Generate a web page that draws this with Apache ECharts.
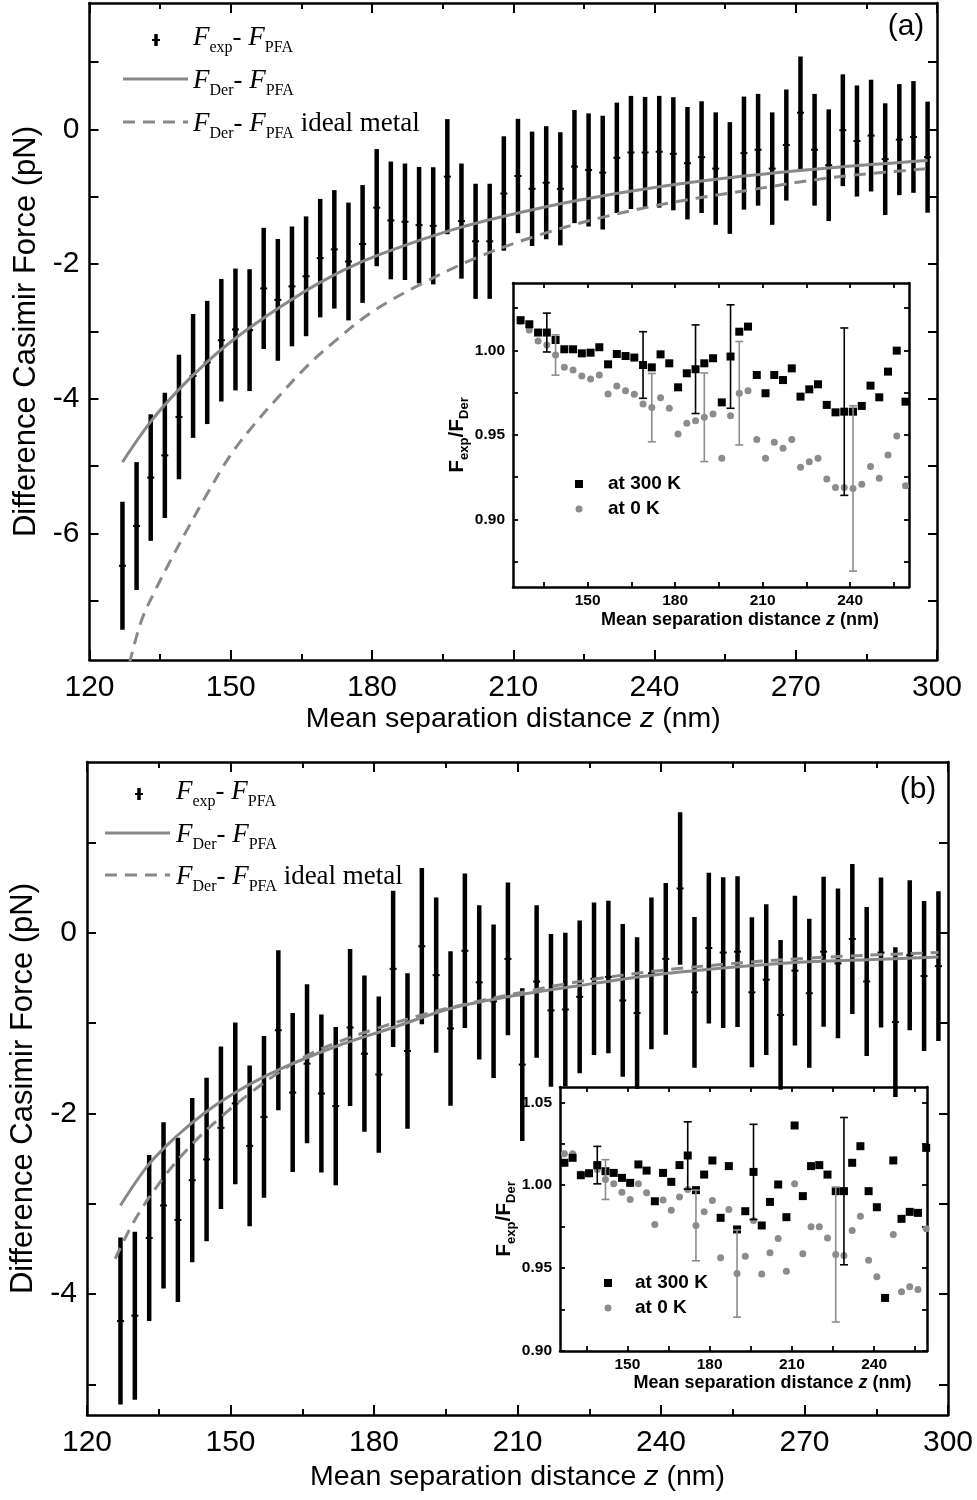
<!DOCTYPE html>
<html><head><meta charset="utf-8">
<script src="https://cdn.jsdelivr.net/npm/echarts@6/dist/echarts.min.js"></script>
<style>html,body{margin:0;padding:0;background:#fff}#c{width:977px;height:1500px}</style>
</head><body><div id="c"></div>
<script>
// ---------------- data ----------------
const zMain = [127,130,133,136,139,142,145,148,151,154,157,160,163,166,169,172,175,178,181,184,187,190,193,196,199,202,205,208,211,214,217,220,223,226,229,232,235,238,241,244,247,250,253,256,259,262,265,268,271,274,277,280,283,286,289,292,295,298];
// panel (a): F_exp - F_PFA (pN) and half error bars
const fA = [-6.48,-5.89,-5.17,-4.84,-4.27,-3.66,-3.46,-3.13,-2.97,-2.98,
  -2.36,-2.53,-2.33,-2.18,-1.91,-1.78,-1.96,-1.70,-1.16,-1.35,
  -1.37,-1.42,-1.43,-0.70,-1.36,-1.66,-1.66,-0.95,-0.69,-0.88,
  -0.79,-0.88,-0.55,-0.60,-0.64,-0.42,-0.34,-0.34,-0.33,-0.36,
  -0.50,-0.41,-0.58,-0.72,-0.35,-0.30,-0.58,-0.23,0.25,-0.30,
  -0.53,-0.01,-0.17,-0.09,-0.44,-0.15,-0.11,-0.41];
const eA = [0.95,0.95,0.94,0.93,0.925,0.92,0.915,0.91,0.905,0.905,
  0.90,0.905,0.89,0.89,0.88,0.88,0.875,0.875,0.87,0.875,
  0.865,0.865,0.87,0.855,0.855,0.855,0.855,0.85,0.85,0.85,
  0.84,0.84,0.84,0.84,0.845,0.82,0.84,0.825,0.83,0.84,
  0.835,0.83,0.835,0.83,0.84,0.83,0.835,0.825,0.835,0.83,
  0.83,0.83,0.825,0.83,0.83,0.825,0.83,0.825];
// panel (b)
const fB = [-4.30,-4.24,-3.38,-3.02,-3.18,-2.74,-2.51,-2.16,-1.89,-2.36,
  -2.04,-1.08,-1.77,-1.45,-1.78,-1.92,-1.05,-1.34,-1.57,-0.40,
  -1.31,-0.15,-0.47,-1.06,-0.20,-0.55,-0.76,-0.29,-1.46,-0.54,
  -0.86,-0.85,-0.71,-0.51,-0.49,-0.75,-0.89,-0.45,-0.29,0.49,
  -0.66,-0.17,-0.22,-0.21,-0.66,-0.52,-0.91,-0.42,-0.67,-0.21,
  -0.34,-0.07,-0.54,-0.22,-0.99,-0.25,-0.48,-0.37];
const eB = [0.925,0.93,0.92,0.92,0.91,0.91,0.905,0.90,0.895,0.89,
  0.895,0.885,0.88,0.88,0.875,0.875,0.87,0.865,0.865,0.865,
  0.86,0.865,0.86,0.855,0.855,0.855,0.85,0.845,0.845,0.845,
  0.845,0.85,0.845,0.845,0.845,0.845,0.84,0.84,0.84,0.845,
  0.835,0.835,0.835,0.835,0.83,0.835,0.83,0.83,0.825,0.83,
  0.83,0.83,0.825,0.83,0.83,0.83,0.83,0.83];

// theory curves
const derAx = [127,133,139,145,151,160,169,178,187,199,211,223,241,259,277,298];
const derAy = [-4.94,-4.34,-3.86,-3.45,-3.10,-2.66,-2.27,-1.96,-1.72,-1.45,-1.24,-1.06,-0.85,-0.69,-0.57,-0.46];
const idAx = [128.5,131,134,137,141,145,150,155,160,166,172,180,190,202,214,228,244,260,278,298];
const idAy = [-7.93,-7.30,-6.84,-6.43,-5.91,-5.41,-4.83,-4.38,-3.98,-3.53,-3.15,-2.71,-2.31,-1.91,-1.60,-1.32,-1.08,-0.90,-0.71,-0.58];
const derBx = [127,133,139,145,151,160,172,184,196,208,223,238,253,268,283,298];
const derBy = [-3.02,-2.56,-2.24,-1.98,-1.77,-1.52,-1.26,-1.05,-0.84,-0.71,-0.585,-0.47,-0.39,-0.33,-0.30,-0.27];
const idBx = [125.9,130,136,142,148,154,160,166,172,180,190,200,210,223,238,253,268,283,298];
const idBy = [-3.61,-3.18,-2.71,-2.34,-2.04,-1.78,-1.55,-1.36,-1.22,-1.07,-0.91,-0.78,-0.67,-0.54,-0.43,-0.35,-0.29,-0.25,-0.22];

// insets: F_exp/F_Der
const zInset = [127,130,133,136,139,142,145,148,151,154,157,160,163,166,169,172,175,178,181,184,187,190,193,196,199,202,205,208,211,214,217,220,223,226,229,232,235,238,241,244,247,250,253,256,259];
const r300A = [1.0178,1.0154,1.0105,1.0105,1.0061,1.0006,1.0006,0.9982,0.9986,1.0018,
  0.9917,0.9978,0.9966,0.9957,0.9913,0.9899,0.9976,0.9923,0.9781,0.9864,
  0.9888,0.9923,0.9953,0.9692,0.9963,1.0110,1.0140,0.9854,0.9746,0.9854,
  0.9824,0.9893,0.9726,0.9769,0.9799,0.9677,0.9633,0.9637,0.9637,0.9671,
  0.9791,0.9722,0.9874,0.9998,0.9696];
const r0A = [1.0170,1.0120,1.0055,1.0032,0.9972,0.9899,0.9884,0.9848,0.9830,0.9854,
  0.9742,0.9789,0.9761,0.9740,0.9682,0.9661,0.9720,0.9657,0.9505,0.9568,
  0.9584,0.9604,0.9623,0.9361,0.9613,0.9746,0.9761,0.9473,0.9361,0.9456,
  0.9420,0.9473,0.9308,0.9341,0.9361,0.9239,0.9189,0.9189,0.9183,0.9207,
  0.9312,0.9243,0.9381,0.9493,0.9199];
const r300B = [1.0135,1.0165,1.0060,1.0072,1.0121,1.0084,1.0074,1.0044,1.0014,1.0125,
  1.0088,0.9903,1.0074,1.0020,1.0121,1.0179,0.9970,1.0064,1.0149,0.9803,
  1.0115,0.9733,0.9843,1.0080,0.9757,0.9899,1.0004,0.9807,1.0360,0.9934,
  1.0115,1.0121,1.0064,0.9964,0.9964,1.0135,1.0235,0.9964,0.9867,0.9320,
  1.0149,0.9797,0.9839,0.9833,1.0225];
const r0B = [1.0189,1.0189,1.0068,1.0068,1.0094,1.0034,1.0008,0.9958,0.9914,1.0008,
  0.9954,0.9763,0.9910,0.9849,0.9928,0.9974,0.9757,0.9839,0.9908,0.9562,
  0.9853,0.9467,0.9572,0.9787,0.9465,0.9592,0.9678,0.9481,1.0008,0.9586,
  0.9749,0.9749,0.9682,0.9582,0.9576,0.9727,0.9813,0.9548,0.9447,0.888,
  0.9702,0.9357,0.9387,0.9371,0.9737];
const errA300X = [136,169,187,199,238], errA300 = [0.0115,0.0197,0.0262,0.0306,0.0495];
const errA0X = [139,172,190,202,241], errA0 = [0.0119,0.0202,0.0262,0.0306,0.0489];
const errB300X = [139,172,196,229], errB300 = [0.0113,0.0203,0.0287,0.0444];
const errB0X = [142,175,190,226], errB0 = [0.0120,0.0213,0.0263,0.0407];

// tick values
const xMainLabels = [120,150,180,210,240,270,300];
const yALabels = [-6,-4,-2,0], yATicks = [-7,-6,-5,-4,-3,-2,-1,0,1];
const yBLabels = [-4,-2,0], yBTicks = [-5,-4,-3,-2,-1,0,1];
const xInsetLabels = [150,180,210,240], xInsetTicks = [135,150,165,180,195,210,225,240,255];
const yIALabels = [0.90,0.95,1.00], yIATicks = [0.875,0.9,0.925,0.95,0.975,1.0,1.025];
const yIBLabels = [0.90,0.95,1.00,1.05], yIBTicks = [0.9,0.925,0.95,0.975,1.0,1.025,1.05];

// ---------------- chart ----------------
const SANS = '"Liberation Sans", Arial, Helvetica, sans-serif';
const SERIF = '"Liberation Serif", "Times New Roman", serif';
const GRAY = '#888888';
const chart = echarts.init(document.getElementById('c'), null, {renderer:'canvas', width:977, height:1500});

const grids = [
  {left:89.5, top:3, width:847.5, height:657},
  {left:513, top:283, width:396, height:304},
  {left:87, top:762, width:861, height:653},
  {left:560, top:1087, width:367, height:264}
].map(g => Object.assign({containLabel:false, outerBoundsMode:'none', show:false}, g));

function mainX(gi, top, gap){
  return {type:'value', gridIndex:gi, position: top?'top':'bottom', min:120, max:300, interval:30,
    axisLine:{onZero:false, lineStyle:{color:'#000', width:2.5}},
    axisTick:{inside:true, length:10, lineStyle:{color:'#000', width:2}},
    minorTick:{show:true, splitNumber:2, length:6, lineStyle:{color:'#000', width:2}},
    splitLine:{show:false}, minorSplitLine:{show:false},
    axisLabel:{show:!top, customValues:xMainLabels, fontSize:30, fontFamily:SANS, color:'#000', margin:13},
    name: top ? '' : 'Mean separation distance {i|z} (nm)', nameLocation:'middle', nameGap:gap,
    nameTextStyle:{fontSize:28.5, fontFamily:SANS, color:'#000',
      rich:{i:{fontStyle:'italic', fontSize:28.5, fontFamily:SANS, color:'#000'}}}
  };
}
function mainY(gi, right, min, max, ticks, labels){
  return {type:'value', gridIndex:gi, position: right?'right':'left', min, max,
    axisLine:{onZero:false, lineStyle:{color:'#000', width:2.5}},
    axisTick:{inside:true, length:9, customValues:ticks, lineStyle:{color:'#000', width:2}},
    axisLabel:{show:!right, customValues:labels, fontSize:30, fontFamily:SANS, color:'#000', margin:10},
    splitLine:{show:false},
    name: right ? '' : 'Difference Casimir Force (pN)', nameLocation:'middle', nameRotate:90, nameGap:45,
    nameTextStyle:{fontSize:31, fontFamily:SANS, color:'#000'}
  };
}
function insetX(gi, top, min, max, gap){
  return {type:'value', gridIndex:gi, position: top?'top':'bottom', min, max,
    axisLine:{onZero:false, lineStyle:{color:'#000', width:2.5}},
    axisTick:{inside:true, length:5, customValues:xInsetTicks, lineStyle:{color:'#000', width:1.8}},
    axisLabel:{show:!top, customValues:xInsetLabels, fontSize:15.5, fontWeight:'bold', fontFamily:SANS, color:'#000', margin:6},
    splitLine:{show:false},
    name: top ? '' : 'Mean separation distance {i|z} (nm)', nameLocation:'middle', nameGap:gap,
    nameTextStyle:{fontSize:18, fontWeight:'bold', fontFamily:SANS, color:'#000', padding:[0,0,0,58],
      rich:{i:{fontStyle:'italic', fontWeight:'bold', fontSize:18, fontFamily:SANS, color:'#000'}}}
  };
}
function insetY(gi, right, min, max, ticks, labels, gap){
  return {type:'value', gridIndex:gi, position: right?'right':'left', min, max,
    axisLine:{onZero:false, lineStyle:{color:'#000', width:2.5}},
    axisTick:{inside:true, length:5, customValues:ticks, lineStyle:{color:'#000', width:1.8}},
    axisLabel:{show:!right, customValues:labels, formatter:v=>Number(v).toFixed(2), fontSize:15.5, fontWeight:'bold', fontFamily:SANS, color:'#000', margin:8},
    splitLine:{show:false},
    name: right ? '' : '{b|F}{s|exp}{b|/F}{s|Der}', nameLocation:'middle', nameRotate:90, nameGap:gap,
    nameTextStyle:{fontFamily:SANS, color:'#000',
      rich:{b:{fontSize:21, fontWeight:'bold', fontFamily:SANS, color:'#000', lineHeight:24},
            s:{fontSize:13, fontWeight:'bold', fontFamily:SANS, color:'#000', lineHeight:14, padding:[14,0,0,0]}}}
  };
}

function mainBar(params, api){
  const x = api.value(0), lo = api.value(1), hi = api.value(2), c = api.value(3);
  const a = api.coord([x, hi]), b = api.coord([x, lo]), m = api.coord([x, c]);
  return {type:'group', children:[
    {type:'line', shape:{x1:a[0], y1:a[1], x2:b[0], y2:b[1]}, style:{stroke:'#000', lineWidth:4.5}},
    {type:'line', shape:{x1:m[0]-3.5, y1:m[1], x2:m[0]+3.5, y2:m[1]}, style:{stroke:'#000', lineWidth:2}}
  ]};
}
function capBar(color){
  return function(params, api){
    const x = api.value(0), c = api.value(1), e = api.value(2);
    const t = api.coord([x, c+e]), b = api.coord([x, c-e]), w = 4;
    const st = {stroke:color, lineWidth:1.6};
    return {type:'group', children:[
      {type:'line', shape:{x1:t[0], y1:t[1], x2:b[0], y2:b[1]}, style:st},
      {type:'line', shape:{x1:t[0]-w, y1:t[1], x2:t[0]+w, y2:t[1]}, style:st},
      {type:'line', shape:{x1:b[0]-w, y1:b[1], x2:b[0]+w, y2:b[1]}, style:st}
    ]};
  };
}
const barData = (f, e) => zMain.map((z,i) => [z, f[i]-e[i], f[i]+e[i], f[i]]);
const pairs = (xs, ys) => xs.map((x,i) => [x, ys[i]]);
const errData = (xs, es, r) => xs.map((x,i) => [x, r[zInset.indexOf(x)], es[i]]);

function lineSeries(xi, xs, ys, dashed){
  return {type:'line', xAxisIndex:xi, yAxisIndex:xi, data:pairs(xs, ys), smooth:0.35,
    showSymbol:false, symbol:'none', clip:true, z:5,
    lineStyle:{color:GRAY, width:3, type: dashed ? [12,8] : 'solid'}};
}
function scat(xi, r, sym, size, color){
  return {type:'scatter', xAxisIndex:xi, yAxisIndex:xi, data:pairs(zInset, r), symbol:sym, symbolSize:size,
    itemStyle:{color, opacity:1}, clip:true, z:6};
}

const series = [
  {type:'custom', xAxisIndex:0, yAxisIndex:0, data:barData(fA, eA), renderItem:mainBar, encode:{x:0, y:[1,2]}, z:3},
  lineSeries(0, derAx, derAy, false),
  lineSeries(0, idAx, idAy, true),
  {type:'custom', xAxisIndex:4, yAxisIndex:4, data:barData(fB, eB), renderItem:mainBar, encode:{x:0, y:[1,2]}, z:3},
  lineSeries(4, derBx, derBy, false),
  lineSeries(4, idBx, idBy, true),
  scat(2, r0A, 'circle', 7, '#8c8c8c'),
  scat(2, r300A, 'rect', 8, '#000'),
  {type:'custom', xAxisIndex:2, yAxisIndex:2, data:errData(errA0X, errA0, r0A), renderItem:capBar('#8c8c8c'), encode:{x:0, y:1}, z:7},
  {type:'custom', xAxisIndex:2, yAxisIndex:2, data:errData(errA300X, errA300, r300A), renderItem:capBar('#000'), encode:{x:0, y:1}, z:7},
  scat(6, r0B, 'circle', 7, '#8c8c8c'),
  scat(6, r300B, 'rect', 8, '#000'),
  {type:'custom', xAxisIndex:6, yAxisIndex:6, data:errData(errB0X, errB0, r0B), renderItem:capBar('#8c8c8c'), encode:{x:0, y:1}, z:7},
  {type:'custom', xAxisIndex:6, yAxisIndex:6, data:errData(errB300X, errB300, r300B), renderItem:capBar('#000'), encode:{x:0, y:1}, z:7}
];

// legend graphics
const LR = {
  F:{fontFamily:SERIF, fontStyle:'italic', fontSize:27, lineHeight:30, fill:'#000'},
  s:{fontFamily:SERIF, fontSize:16, lineHeight:16, padding:[20,0,0,0], fill:'#000'},
  n:{fontFamily:SERIF, fontSize:27, lineHeight:30, fill:'#000'}
};
function legend(plusX, plusY, textX, rows, lineX1, lineX2, lineYs){
  const els = [];
  els.push({type:'line', shape:{x1:plusX, y1:plusY-6, x2:plusX, y2:plusY+6}, style:{stroke:'#000', lineWidth:3.5}});
  els.push({type:'line', shape:{x1:plusX-4, y1:plusY, x2:plusX+4, y2:plusY}, style:{stroke:'#000', lineWidth:2}});
  els.push({type:'line', shape:{x1:lineX1, y1:lineYs[0], x2:lineX2, y2:lineYs[0]}, style:{stroke:GRAY, lineWidth:3}});
  els.push({type:'line', shape:{x1:lineX1, y1:lineYs[1], x2:lineX2, y2:lineYs[1]}, style:{stroke:GRAY, lineWidth:3, lineDash:[12,8]}});
  const texts = ['{F|F}{s|exp}{n|- }{F|F}{s|PFA}', '{F|F}{s|Der}{n|- }{F|F}{s|PFA}', '{F|F}{s|Der}{n|- }{F|F}{s|PFA}{n| ideal metal}'];
  texts.forEach((t,i) => els.push({type:'text', x:textX, y:rows[i], style:{text:t, rich:LR, align:'left', verticalAlign:'middle', fill:'#000'}}));
  return els;
}
function insetLegend(sx, sy, tx){
  return [
    {type:'rect', shape:{x:sx-4, y:sy-4, width:8, height:8}, style:{fill:'#000'}},
    {type:'circle', shape:{cx:sx, cy:sy+25, r:3.5}, style:{fill:'#8c8c8c'}},
    {type:'text', x:tx, y:sy, style:{text:'at 300 K', font:'bold 19px ' + SANS, fill:'#000', align:'left', verticalAlign:'middle'}},
    {type:'text', x:tx, y:sy+25, style:{text:'at 0 K', font:'bold 19px ' + SANS, fill:'#000', align:'left', verticalAlign:'middle'}}
  ];
}
const graphics = [].concat(
  legend(156, 40, 193, [38, 81, 124], 123, 188, [79, 122]),
  legend(139, 794, 176, [792, 835, 877], 105, 170, [833, 875]),
  insetLegend(579, 484, 608),
  insetLegend(608, 1283, 635),
  [
    {type:'text', x:906, y:27, style:{text:'(a)', font:'30px ' + SANS, fill:'#000', align:'center', verticalAlign:'middle'}},
    {type:'text', x:918, y:790, style:{text:'(b)', font:'30px ' + SANS, fill:'#000', align:'center', verticalAlign:'middle'}}
  ]
);

chart.setOption({
  animation:false,
  backgroundColor:'#fff',
  grid: grids,
  xAxis: [
    mainX(0, false, 45), mainX(0, true, 0),
    insetX(1, false, 124.4, 260.2, 24), insetX(1, true, 124.4, 260.2, 0),
    mainX(2, false, 48), mainX(2, true, 0),
    insetX(3, false, 125.4, 259.3, 20), insetX(3, true, 125.4, 259.3, 0)
  ],
  yAxis: [
    mainY(0, false, -7.88, 1.88, yATicks, yALabels), mainY(0, true, -7.88, 1.88, yATicks, yALabels),
    insetY(1, false, 0.86, 1.0398, yIATicks, yIALabels, 40), insetY(1, true, 0.86, 1.0398, yIATicks, yIALabels, 40),
    mainY(2, false, -5.34, 1.89, yBTicks, yBLabels), mainY(2, true, -5.34, 1.89, yBTicks, yBLabels),
    insetY(3, false, 0.90, 1.0592, yIBTicks, yIBLabels, 38), insetY(3, true, 0.90, 1.0592, yIBTicks, yIBLabels, 38)
  ],
  series,
  graphic:{elements:graphics}
});
</script>
</body></html>
